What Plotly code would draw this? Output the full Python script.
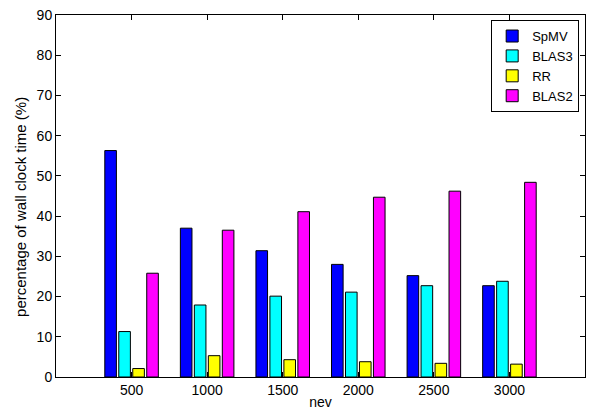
import plotly.graph_objects as go

nev = [500, 1000, 1500, 2000, 2500, 3000]
spmv = [56.3, 37.0, 31.4, 28.0, 25.2, 22.7]
blas3 = [11.3, 17.9, 20.1, 21.1, 22.7, 23.8]
rr = [2.1, 5.3, 4.3, 3.8, 3.4, 3.2]
blas2 = [25.8, 36.5, 41.1, 44.7, 46.2, 48.4]

series = [("SpMV", spmv, "#0000ff"), ("BLAS3", blas3, "#00ffff"),
          ("RR", rr, "#ffff00"), ("BLAS2", blas2, "#ff00ff")]

fig = go.Figure()
for name, vals, col in series:
    fig.add_trace(go.Bar(x=nev, y=vals, name=name, marker=dict(color=col, line=dict(color="black", width=1))))

fam = "Liberation Sans, Arial, sans-serif"
font = dict(family=fam, size=14, color="black")
fig.update_layout(
    width=589, height=413,
    margin=dict(l=56, r=4, t=15, b=36),
    barmode="group", bargap=0.26, bargroupgap=0.17,
    plot_bgcolor="white", paper_bgcolor="white",
    font=font,
    xaxis=dict(range=[0, 3500], tickvals=nev, ticktext=[str(v) for v in nev],
               showgrid=False, zeroline=False, showline=True, linecolor="black", linewidth=1,
               mirror="ticks", ticks="inside", ticklen=5, tickcolor="black",
               tickfont=font,
               title=dict(text="nev", standoff=0, font=font)),
    yaxis=dict(range=[0, 90], dtick=10, showgrid=False, zeroline=False, showline=True,
               linecolor="black", linewidth=1, mirror="ticks", ticks="inside", ticklen=5,
               tickcolor="black", tickfont=font),
    legend=dict(x=0.989, y=0.986, xanchor="right", yanchor="top", bordercolor="black",
                borderwidth=1, bgcolor="white", tracegroupgap=0, itemwidth=30,
                font=dict(family=fam, size=13, color="black")),
    showlegend=True,
    annotations=[dict(text="percentage of wall clock time (%)", textangle=-90,
                      xref="paper", yref="paper", x=-0.066, y=0.47,
                      xanchor="center", yanchor="middle", showarrow=False,
                      font=dict(family=fam, size=15, color="black"))],
)
fig.write_html("out.html")
